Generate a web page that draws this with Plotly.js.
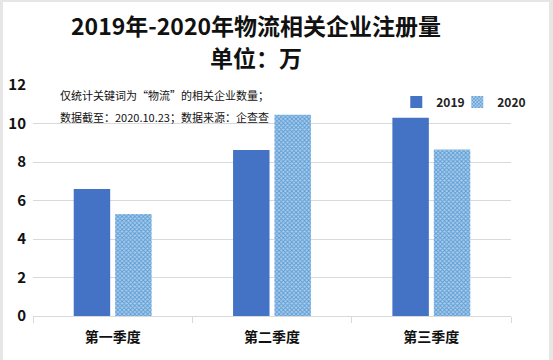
<!DOCTYPE html>
<html><head><meta charset="utf-8">
<script src="https://cdn.plot.ly/plotly-3.0.1.min.js"></script>
<style>
html,body{margin:0;padding:0;background:#e6e6e6;width:553px;height:360px;overflow:hidden;}
#chart{position:absolute;left:3px;top:2px;width:546px;height:358px;background:#fff;}
</style></head>
<body><div id="chart"></div>
<script>
const categories = ['第一季度', '第二季度', '第三季度'];
const values2019 = [6.6, 8.62, 10.3];
const values2020 = [5.3, 10.45, 8.65];
const yTicks = [0, 2, 4, 6, 8, 10, 12];
const titleLines = ['2019年-2020年物流相关企业注册量', '单位：万'];
const noteLines = ['仅统计关键词为“物流”的相关企业数量；', '数据截至：2020.10.23；数据来源：企查查'];

const font = '"Noto Sans CJK SC", "Noto Sans", sans-serif';
const traces = [
  {type:'bar', name:'2019', x:categories, y:values2019, marker:{color:'#4472C4'}, legendwidth:16},
  {type:'bar', name:'2020', x:categories, y:values2020, legendwidth:40,
   marker:{color:'#9DC3E6', pattern:{shape:'x', fgcolor:'#5B9BD5', bgcolor:'#A9CDEB', size:3, solidity:0.5}}}
];
const notes = noteLines.map((t,i)=>({text:t, xref:'paper', yref:'paper', x:0.052, y:(i===0?0.955:0.86),
  xanchor:'left', yanchor:'middle', showarrow:false, font:{size:11, family:font, color:'#111'}}));
const titles = titleLines.map((t,i)=>({text:'<b>'+t+'</b>', xref:'paper', yref:'paper', x:0.467, y:(i===0?1.258:1.122),
  xanchor:'center', yanchor:'middle', showarrow:false, font:{size:23, family:font, color:'#111'}}));
const layout = {
  width:546, height:358,
  paper_bgcolor:'#fff', plot_bgcolor:'#fff',
  margin:{l:30, r:38, t:83, b:44, autoexpand:false},
  font:{family:font, color:'#000'},
  bargap:0.48, bargroupgap:0.12,
  xaxis:{type:'category', tickson:'boundaries', ticks:'outside', ticklen:6, tickcolor:'#d9d9d9',
         showline:true, linecolor:'#d9d9d9', ticklabelstandoff:8,
         tickfont:{size:14, family:font, color:'#111', weight:'bold'}},
  yaxis:{range:[0,12], tickvals:yTicks, showgrid:true, gridcolor:'#d9d9d9', zeroline:false,
         tickfont:{size:15, family:font, color:'#111', weight:'bold'}, ticklabelstandoff:6},
  showlegend:true,
  legend:{orientation:'h', x:0.76, y:0.926, xanchor:'left', yanchor:'middle', bgcolor:'rgba(0,0,0,0)',
          itemwidth:30,
          font:{size:12, family:font, color:'#222', weight:'bold'}},
  annotations: titles.concat(notes)
};
Plotly.newPlot('chart', traces, layout, {displayModeBar:false, staticPlot:true});
</script></body></html>
